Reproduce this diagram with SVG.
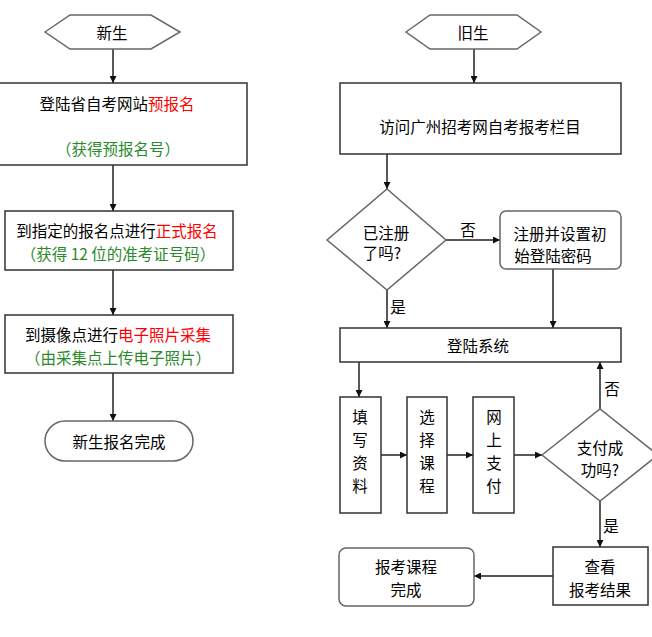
<svg xmlns="http://www.w3.org/2000/svg" width="652" height="637" viewBox="0 0 652 637">
<style>
text{font-family:"Noto Sans CJK SC","Noto Sans",sans-serif;font-size:15.5px;fill:#000;text-anchor:middle;dominant-baseline:central}
.box{fill:#fff;stroke:#333;stroke-width:1.5}
.gray{fill:#fff;stroke:#666;stroke-width:1.5}
.red{fill:#ff0000}
.green{fill:#2a8a2a}
.ln{fill:none;stroke:#222;stroke-width:1.5}
</style>
<defs>
<marker id="ah" viewBox="0 0 10 10" refX="10" refY="5" markerWidth="7" markerHeight="7" markerUnits="userSpaceOnUse" orient="auto">
<path d="M0,0 L10,5 L0,10 z" fill="#111"/>
</marker>
</defs>
<rect width="652" height="637" fill="#fff"/>
<g id="connectors">
<path class="ln" d="M113,49 V83" marker-end="url(#ah)"/>
<path class="ln" d="M113,165 V211" marker-end="url(#ah)"/>
<path class="ln" d="M113,270 V315" marker-end="url(#ah)"/>
<path class="ln" d="M113,373 V421" marker-end="url(#ah)"/>
<path class="ln" d="M474,49 V83" marker-end="url(#ah)"/>
<path class="ln" d="M387,154 V189" marker-end="url(#ah)"/>
<path class="ln" d="M446,240 H500" marker-end="url(#ah)"/>
<path class="ln" d="M387,290 V328" marker-end="url(#ah)"/>
<path class="ln" d="M553,269 V328" marker-end="url(#ah)"/>
<path class="ln" d="M359,362 V397" marker-end="url(#ah)"/>
<path class="ln" d="M381,455 H407" marker-end="url(#ah)"/>
<path class="ln" d="M447,455 H473" marker-end="url(#ah)"/>
<path class="ln" d="M514,455 H542" marker-end="url(#ah)"/>
<path class="ln" d="M600,409 V362" marker-end="url(#ah)"/>
<path class="ln" d="M600,501 V547" marker-end="url(#ah)"/>
<path class="ln" d="M553,576 H474" marker-end="url(#ah)"/>
<text x="468" y="229">否</text>
<text x="398" y="306">是</text>
<text x="612" y="388">否</text>
<text x="611" y="525">是</text>
</g>
<g id="new-start">
<polygon class="gray" points="45,32 70,15 151,15 180,32 151,49 70,49"/>
<text x="112" y="32">新生</text>
</g>
<g id="new-prereg">
<rect class="box" x="-2" y="83" width="249" height="82"/>
<text x="117" y="103">登陆省自考网站<tspan class="red">预报名</tspan></text>
<text x="118" y="148" class="green">（获得预报名号）</text>
</g>
<g id="new-formal">
<rect class="box" x="5" y="211" width="228" height="59"/>
<text x="117" y="230">到指定的报名点进行<tspan class="red">正式报名</tspan></text>
<text x="118" y="253" class="green">（获得 12 位的准考证号码）</text>
</g>
<g id="new-photo">
<rect class="box" x="5" y="315" width="228" height="58"/>
<text x="118" y="334">到摄像点进行<tspan class="red">电子照片采集</tspan></text>
<text x="118" y="357" class="green">（由采集点上传电子照片）</text>
</g>
<g id="new-done">
<rect class="gray" x="45" y="421" width="148" height="40" rx="20"/>
<text x="119" y="441">新生报名完成</text>
</g>
<g id="old-start">
<polygon class="gray" points="406,32 430,15 517,15 541,32 517,49 430,49"/>
<text x="473" y="32">旧生</text>
</g>
<g id="old-visit">
<rect class="box" x="340" y="83" width="281" height="71"/>
<text x="480" y="126">访问广州招考网自考报考栏目</text>
</g>
<g id="old-registered">
<polygon class="gray" points="387,189 446,240 387,290 327,240"/>
<text x="386" y="232">已注册</text>
<text x="382" y="252">了吗?</text>
</g>
<g id="old-register">
<rect class="gray" x="500" y="211" width="121" height="58" rx="6"/>
<text x="560" y="233">注册并设置初</text>
<text x="553" y="255">始登陆密码</text>
</g>
<g id="old-login">
<rect class="box" x="340" y="328" width="281" height="34"/>
<text x="478" y="345">登陆系统</text>
</g>
<g id="old-fill">
<rect class="box" x="340" y="397" width="41" height="116"/>
<text x="360" y="416">填</text><text x="360" y="439">写</text><text x="360" y="462">资</text><text x="360" y="485">料</text>
</g>
<g id="old-course">
<rect class="box" x="407" y="397" width="40" height="116"/>
<text x="427" y="416">选</text><text x="427" y="439">择</text><text x="427" y="462">课</text><text x="427" y="485">程</text>
</g>
<g id="old-pay">
<rect class="box" x="473" y="397" width="41" height="116"/>
<text x="494" y="416">网</text><text x="494" y="439">上</text><text x="494" y="462">支</text><text x="494" y="485">付</text>
</g>
<g id="old-paid">
<polygon class="gray" points="542,455 600,409 658,455 600,501"/>
<text x="600" y="447">支付成</text>
<text x="600" y="469">功吗?</text>
</g>
<g id="old-result">
<rect class="box" x="553" y="547" width="95" height="58"/>
<text x="600" y="566">查看</text>
<text x="600" y="589">报考结果</text>
</g>
<g id="old-done">
<rect class="gray" x="339" y="548" width="135" height="58" rx="7"/>
<text x="406" y="566">报考课程</text>
<text x="406" y="589">完成</text>
</g>
</svg>
